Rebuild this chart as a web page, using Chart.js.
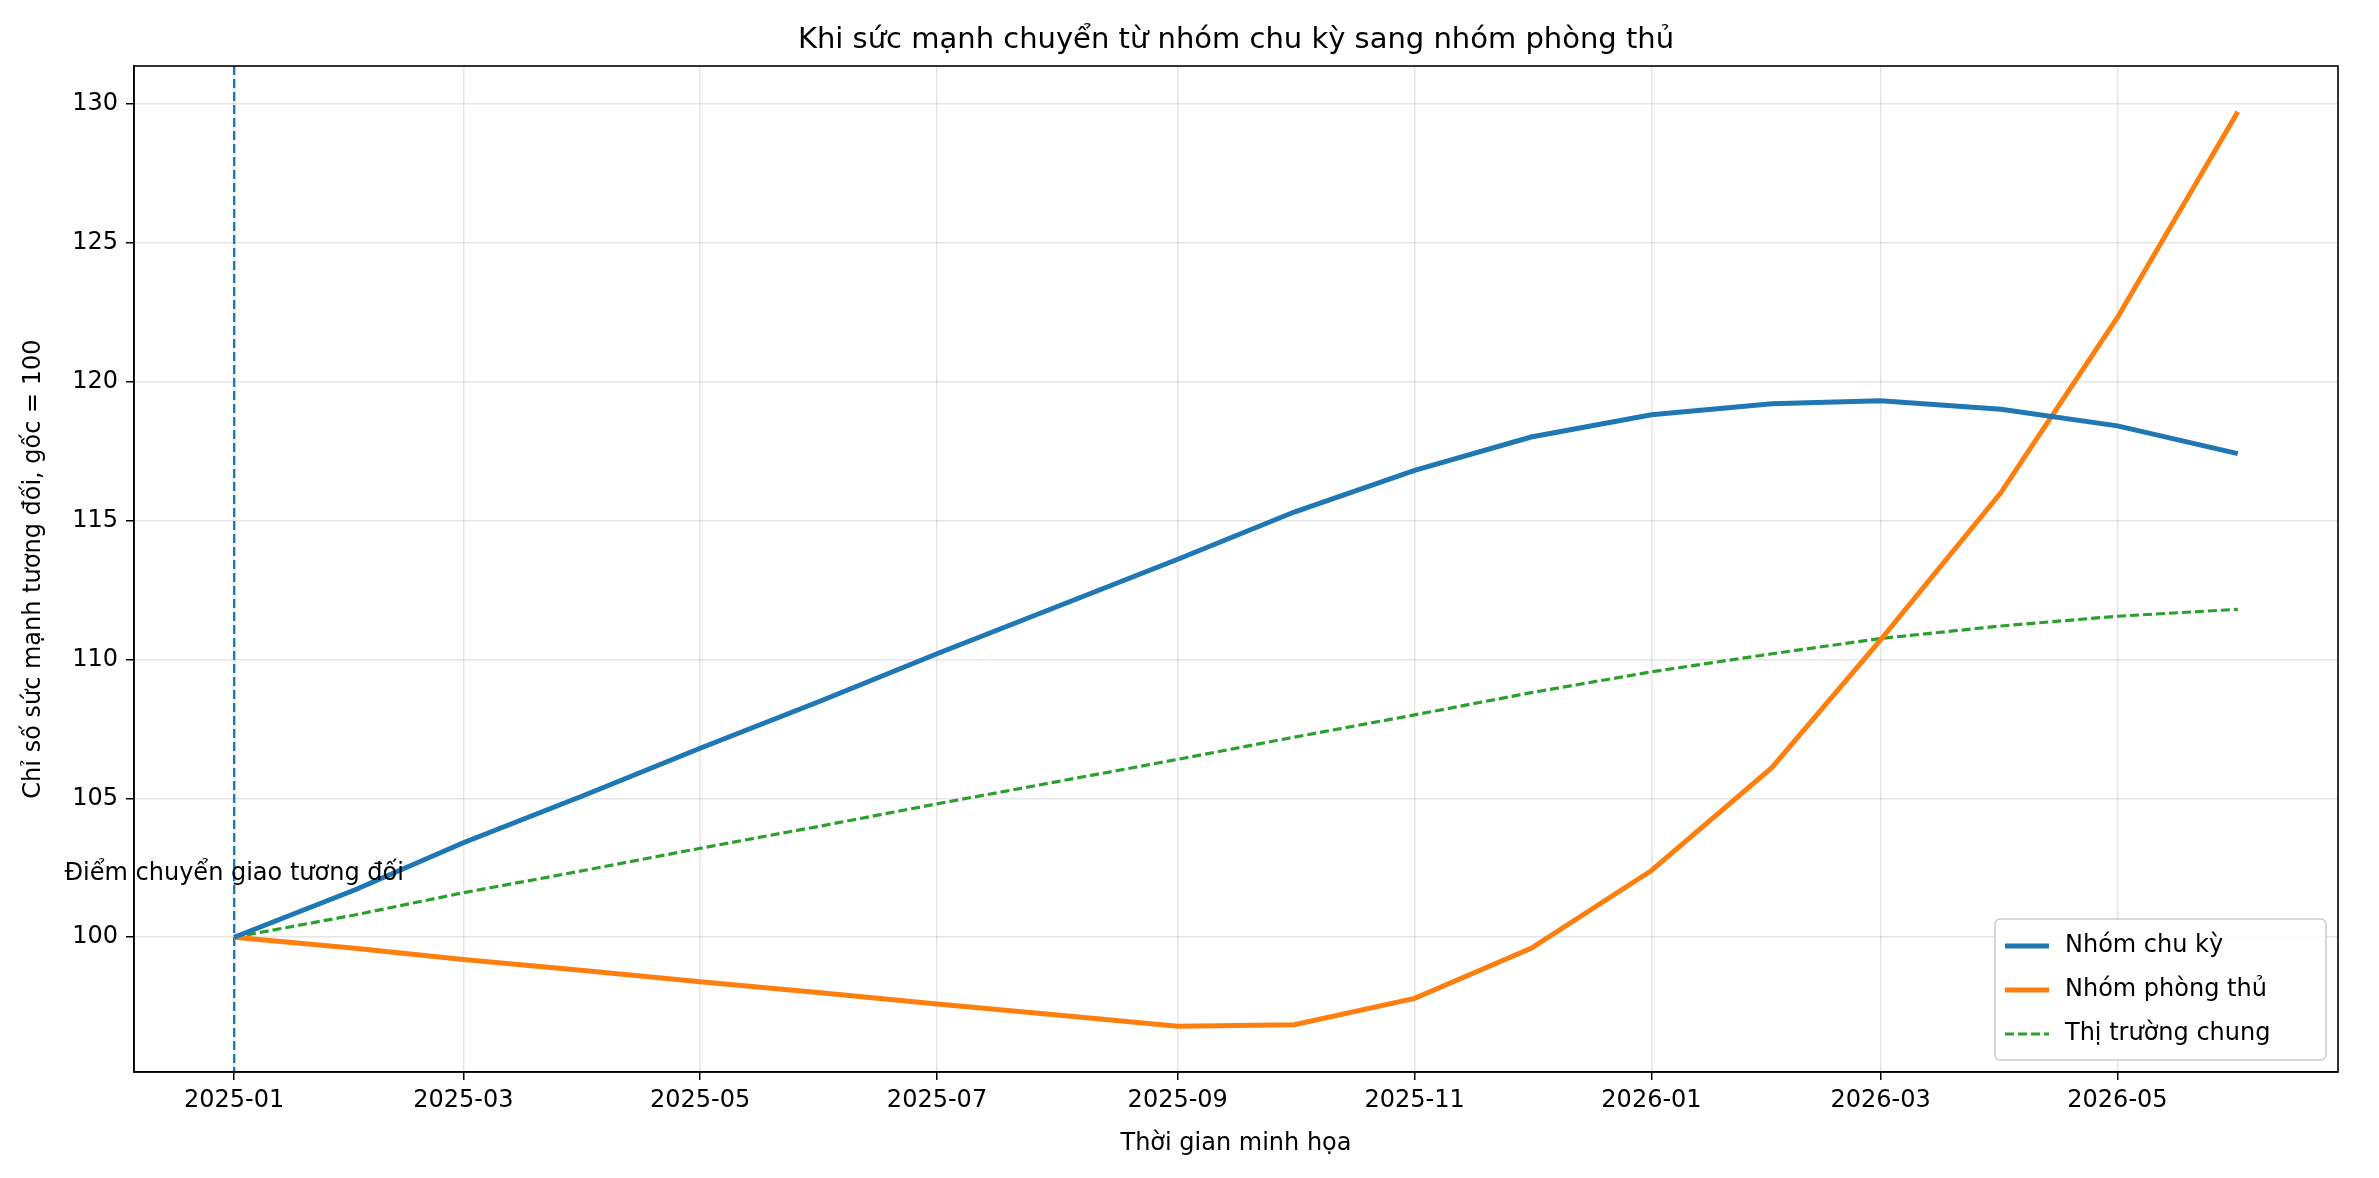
<!DOCTYPE html>
<html><head><meta charset="utf-8">
<script src="https://cdn.jsdelivr.net/npm/chart.js@4"></script>
<style>html,body{margin:0;padding:0;background:#fff}#w{width:2379px;height:1178px}</style>
</head><body><div id="w"><canvas id="c"></canvas></div>
<script>
const months = ["2025-01","2025-02","2025-03","2025-04","2025-05","2025-06","2025-07","2025-08","2025-09","2025-10","2025-11","2025-12","2026-01","2026-02","2026-03","2026-04","2026-05","2026-06"];
const cyclical = [100,101.7,103.4,105.1,106.8,108.5,110.2,111.9,113.6,115.3,116.8,118.0,118.8,119.2,119.3,119.0,118.4,117.4];
const defensive = [100,99.6,99.2,98.8,98.4,98.0,97.6,97.2,96.8,96.85,97.8,99.6,102.4,106.1,110.7,116.0,122.3,129.7];
const market = [100,100.8,101.6,102.4,103.2,104.0,104.8,105.6,106.4,107.2,108.0,108.8,109.55,110.2,110.75,111.2,111.55,111.8];
const xTickLabels = ["2025-01","2025-03","2025-05","2025-07","2025-09","2025-11","2026-01","2026-03","2026-05"];
const yTicks = [100,105,110,115,120,125,130];
const seriesNames = ["Nhóm chu kỳ","Nhóm phòng thủ","Thị trường chung"];
const titleText = "Khi sức mạnh chuyển từ nhóm chu kỳ sang nhóm phòng thủ";
const xTitle = "Thời gian minh họa";
const yTitle = "Chỉ số sức mạnh tương đối, gốc = 100";
const annText = "Điểm chuyển giao tương đối";

const day0 = Date.UTC(2025,0,1);
const toDay = s => { const [y,m]=s.split("-").map(Number); return (Date.UTC(y,m-1,1)-day0)/86400000; };
const xs = months.map(toDay);
const pts = arr => arr.map((v,i)=>({x:xs[i],y:v}));
const xTickVals = xTickLabels.map(toDay);
const labelOf = {}; xTickLabels.forEach((l,i)=>labelOf[xTickVals[i]]=l);
const F = "DejaVu Sans";
const colors = ["#1f77b4","#ff7f0e","#2ca02c"];

const extra = {
  id:'extra',
  beforeDatasetsDraw(ch){
    const {ctx,chartArea:a,scales:{x,y}} = ch;
    const px = x.getPixelForValue(0);
    ctx.save(); ctx.strokeStyle=colors[0]; ctx.lineWidth=2.4; ctx.setLineDash([9,4]);
    ctx.beginPath(); ctx.moveTo(px,a.top); ctx.lineTo(px,a.bottom); ctx.stroke(); ctx.restore();
  },
  afterDraw(ch){
    const {ctx,chartArea:a,scales:{x,y}} = ch;
    ctx.save();
    ctx.strokeStyle="#000"; ctx.lineWidth=1.6; ctx.strokeRect(a.left,a.top,a.right-a.left,a.bottom-a.top);
    ctx.fillStyle="#000"; ctx.textAlign="center"; ctx.textBaseline="alphabetic";
    ctx.font="29px '"+F+"'"; ctx.fillText(titleText,(a.left+a.right)/2,a.top-18);
    ctx.font="24px '"+F+"'";
    ctx.fillText(xTitle,(a.left+a.right)/2,1150);
    ctx.fillText(annText,x.getPixelForValue(0),y.getPixelForValue(102.05));
    ctx.save(); ctx.translate(40,(a.top+a.bottom)/2); ctx.rotate(-Math.PI/2); ctx.fillText(yTitle,0,0); ctx.restore();
    // legend
    const w=331,h=141,lx=a.right-12-w,ly=a.bottom-12-h;
    ctx.fillStyle="rgba(255,255,255,0.85)"; ctx.strokeStyle="#ccc"; ctx.lineWidth=1.5;
    ctx.beginPath(); ctx.roundRect(lx,ly,w,h,5); ctx.fill(); ctx.stroke();
    ctx.textAlign="left"; ctx.textBaseline="middle"; ctx.font="24px '"+F+"'";
    seriesNames.forEach((n,i)=>{
      const yy=ly+27+i*44;
      ctx.strokeStyle=colors[i]; ctx.lineWidth=i==2?3:5; ctx.setLineDash(i==2?[9,4]:[]);
      ctx.beginPath(); ctx.moveTo(lx+10,yy); ctx.lineTo(lx+54,yy); ctx.stroke(); ctx.setLineDash([]);
      ctx.fillStyle="#000"; ctx.fillText(n,lx+70,yy);
    });
    ctx.restore();
  }
};

new Chart(document.getElementById('c'),{
  type:'line',
  data:{datasets:[
    {label:seriesNames[0],data:pts(cyclical),borderColor:colors[0],borderWidth:5,pointRadius:0,tension:0},
    {label:seriesNames[1],data:pts(defensive),borderColor:colors[1],borderWidth:5,pointRadius:0,tension:0},
    {label:seriesNames[2],data:pts(market),borderColor:colors[2],borderWidth:3.2,borderDash:[9,4],pointRadius:0,tension:0}
  ]},
  options:{
    responsive:true,maintainAspectRatio:false,animation:false,
    layout:{padding:{top:66,right:41,left:0,bottom:0}},
    plugins:{legend:{display:false},tooltip:{enabled:false}},
    scales:{
      x:{type:'linear',min:-25.8,max:541.8,
        afterBuildTicks:s=>{s.ticks=xTickVals.map(v=>({value:v}));},
        afterFit:s=>{s.height=106;},
        ticks:{callback:v=>labelOf[v]||"",color:"#000",font:{family:F,size:24},maxRotation:0,padding:6,autoSkip:false},
        grid:{color:"rgba(0,0,0,0.1)",tickColor:"#000",tickLength:8,lineWidth:1.5},
        border:{color:"#000",width:1.6}},
      y:{type:'linear',min:95.15,max:131.35,
        afterBuildTicks:s=>{s.ticks=yTicks.map(v=>({value:v}));},
        afterFit:s=>{s.width=134;},
        ticks:{color:"#000",font:{family:F,size:24},padding:8},
        grid:{color:"rgba(0,0,0,0.1)",tickColor:"#000",tickLength:8,lineWidth:1.5},
        border:{color:"#000",width:1.6}}
    }
  },
  plugins:[extra]
});
</script></body></html>
